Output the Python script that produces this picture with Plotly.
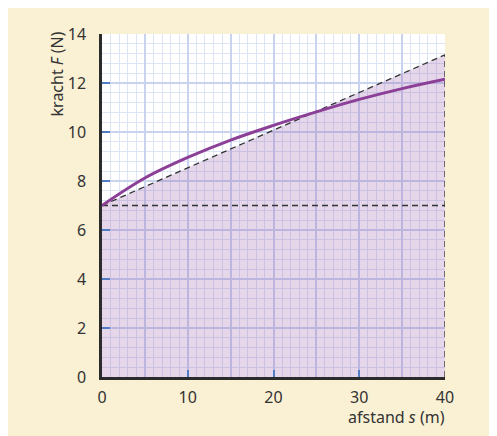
import plotly.graph_objects as go

# afstand s (m) en kracht F (N)
s_curve = [0, 5, 10, 15, 20, 25, 30, 35, 40]
F_curve = [7.0, 8.12, 8.96, 9.67, 10.27, 10.82, 11.33, 11.77, 12.15]

s_lin = [0, 40]
F_lin = [7.0, 13.15]

s_const = [0, 40]
F_const = [7.0, 7.0]

s_end = [40, 40]
F_end = [0, 13.15]

x_ticks = [0, 10, 20, 30, 40]
y_ticks = [0, 2, 4, 6, 8, 10, 12, 14]

cream = "#FAF0D3"
txt = "#333333"
major_grid = "#C9D3EE"
minor_grid = "#DDE4F6"
tick_blue = "#4F7CC4"
dash_col = "#333333"

fig = go.Figure()

# lineaire benadering met gevuld oppervlak
fig.add_trace(go.Scatter(
    x=s_lin, y=F_lin, mode="lines", fill="tozeroy",
    fillcolor="rgba(150, 90, 170, 0.25)",
    line=dict(color=dash_col, width=1.3, dash="6px,4px"),
    hoverinfo="skip", showlegend=False,
))
fig.add_trace(go.Scatter(
    x=s_const, y=F_const, mode="lines",
    line=dict(color=dash_col, width=1.3, dash="6px,4px"),
    hoverinfo="skip", showlegend=False,
))
fig.add_trace(go.Scatter(
    x=s_end, y=F_end, mode="lines",
    line=dict(color=dash_col, width=1.3, dash="6px,4px"),
    hoverinfo="skip", showlegend=False,
))
fig.add_trace(go.Scatter(
    x=s_curve, y=F_curve, mode="lines",
    line=dict(color="#8C3F96", width=3, shape="spline", smoothing=1.0),
    showlegend=False,
))
# extra as alleen voor de rasterlijnen om de 5 m
fig.add_trace(go.Scatter(x=[0], y=[0], xaxis="x2", mode="markers",
                         marker=dict(opacity=0), hoverinfo="skip", showlegend=False))

font = dict(family="Noto Sans, Open Sans, sans-serif", size=16, color=txt)

fig.update_layout(
    width=489, height=428,
    margin=dict(l=94, r=52, t=26, b=59),
    paper_bgcolor=cream,
    plot_bgcolor="white",
    font=font,
    xaxis=dict(
        range=[0, 40], tickvals=x_ticks, ticks="inside", ticklen=7, tickwidth=2,
        tickcolor=tick_blue, showline=True, linecolor="#2b2b2b", linewidth=2.5,
        showgrid=False, zeroline=False, tickfont=font, ticklabelstandoff=4,
        minor=dict(dtick=1, showgrid=True, gridcolor=minor_grid, gridwidth=1),
    ),
    xaxis2=dict(
        range=[0, 40], overlaying="x", anchor="y", side="bottom", dtick=5,
        showgrid=True, gridcolor=major_grid, gridwidth=2, showticklabels=False,
        ticks="", zeroline=False, showline=False,
    ),
    yaxis=dict(
        range=[0, 14], tickvals=y_ticks, ticks="inside", ticklen=8, tickwidth=2,
        tickcolor=tick_blue, showline=True, linecolor="#2b2b2b", linewidth=2.5,
        showgrid=True, gridcolor=major_grid, gridwidth=2, zeroline=False,
        tickfont=font, ticklabelstandoff=10,
        minor=dict(dtick=0.4, showgrid=True, gridcolor=minor_grid, gridwidth=1),
    ),
    annotations=[
        dict(text="kracht <i>F</i> (N)", xref="paper", yref="paper",
             x=-0.13, y=1.013, xanchor="center", yanchor="top", textangle=-90,
             showarrow=False, font=font),
        dict(text="afstand <i>s</i> (m)", xref="paper", yref="paper",
             x=1.006, y=-0.117, xanchor="right", yanchor="middle",
             showarrow=False, font=font),
    ],
)

fig.write_html("out.html")
